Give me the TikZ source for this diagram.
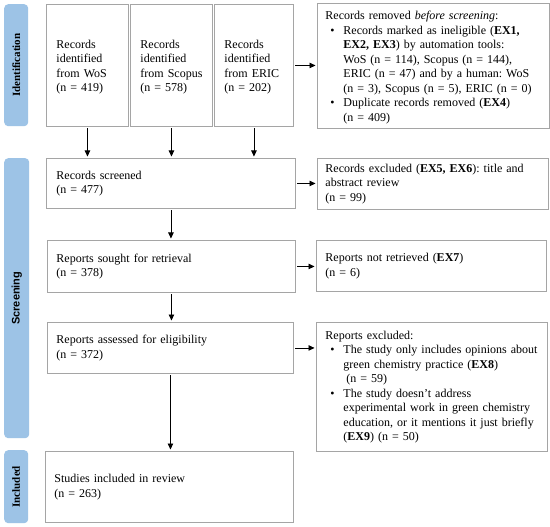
\documentclass[tikz,border=0pt]{standalone}
\usepackage{fontspec}
\setmainfont{Liberation Serif}
\newfontfamily\arialfont{Liberation Sans}
\usetikzlibrary{arrows.meta}
\definecolor{barblue}{RGB}{157,195,230}
\definecolor{boxgray}{RGB}{165,165,165}
\frenchspacing
\newcommand{\bul}{\makebox[18pt][l]{\hspace{5pt}\textbullet}}
\newcommand{\ind}{\hspace*{18pt}}
\newcommand{\jl}[2]{\makebox[#1][s]{#2}}
\begin{document}
\begin{tikzpicture}[x=1pt,y=-1pt,
  box/.style={draw=boxgray, line width=0.9pt, anchor=north west, align=left,
    inner xsep=9pt, inner ysep=0pt, font=\fontsize{12}{14.5}\selectfont},
  bar/.style={fill=barblue, rounded corners=4pt, anchor=north west, inner sep=0pt},
  barlabel/.style={rotate=90, font=\bfseries\fontsize{11}{13}\selectfont},
  arr/.style={-{Triangle[length=6pt,width=5.5pt]}, line width=0.8pt, shorten >=1.5pt, shorten <=1.5pt}]
\fill[white] (0,0) rectangle (550,527);
\useasboundingbox (0,0) rectangle (550,527);
% side bars
\node[bar, minimum width=24pt, minimum height=122pt] (idbar) at (4,4) {};
\node[barlabel] at (idbar.center) {Identification};
\node[bar, minimum width=25pt, minimum height=280pt] (scbar) at (4,158) {};
\node[barlabel, font=\arialfont\bfseries\fontsize{11}{13}\selectfont] at (scbar.center) {Screening};
\node[bar, minimum width=24pt, minimum height=73pt] (inbar) at (4,450) {};
\node[barlabel] at (inbar.center) {Included};
% boxes
\node[box, inner xsep=10pt, text width=62pt, minimum height=122pt] (wos) at (46,4)
  {\rule{0pt}{12pt}Records\\identified\\from WoS\\(n = 419)};
\node[box, inner xsep=10pt, text width=62pt, minimum height=122pt] (scopus) at (130,4)
  {\rule{0pt}{12pt}Records\\identified\\from Scopus\\(n = 578)};
\node[box, inner xsep=10pt, text width=59pt, minimum height=122pt] (eric) at (214,4)
  {\rule{0pt}{12pt}Records\\identified\\from ERIC\\(n = 202)};
\node[box, inner xsep=8pt, text width=216pt, minimum height=125pt] (removed) at (317,3)
  {\rule{0pt}{12pt}Records removed \textit{before screening}:\\
   \bul\jl{204pt}{Records marked as ineligible (\textbf{EX1,}}\\
   \ind\textbf{EX2, EX3}) by automation tools:\\
   \ind\jl{185pt}{WoS (n = 114), Scopus (n = 144),}\\
   \ind\jl{203pt}{ERIC (n = 47) and by a human: WoS}\\
   \ind (n = 3), Scopus (n = 5), ERIC (n = 0)\\
   \bul Duplicate records removed (\textbf{EX4})\\
   \ind (n = 409)};
\node[box, inner xsep=10pt, text width=229pt, minimum height=50pt] (screened) at (46,158)
  {Records screened\\(n = 477)};
\node[box, inner xsep=8pt, text width=215pt, minimum height=51pt] (excl1) at (317,158)
  {Records excluded (\textbf{EX5, EX6}): title and\\abstract review\\(n = 99)};
\node[box, text width=230pt, minimum height=52pt] (sought) at (47,240)
  {Reports sought for retrieval\\(n = 378)};
\node[box, text width=212pt, minimum height=51pt] (notret) at (316,240)
  {Reports not retrieved (\textbf{EX7})\\(n = 6)};
\node[box, text width=228pt, minimum height=51pt] (assessed) at (47,322)
  {Reports assessed for eligibility\\(n = 372)};
\node[box, text width=213pt, minimum height=129pt] (excl2) at (316,322)
  {Reports excluded:\\
   \bul The study only includes opinions about\\
   \ind green chemistry practice (\textbf{EX8})\\
   \ind\hspace*{3pt}(n = 59)\\
   \bul The study doesn’t address\\
   \ind experimental work in green chemistry\\
   \ind education, or it mentions it just briefly\\
   \ind(\textbf{EX9}) (n = 50)};
\node[box, text width=230pt, minimum height=71pt] (included) at (45,451)
  {Studies included in review\\(n = 263)};
% arrows
\draw[arr] (wos.south) -- (wos.south |- screened.north);
\draw[arr] (scopus.south) -- (scopus.south |- screened.north);
\draw[arr] (eric.south) -- (eric.south |- screened.north);
\draw[arr] (eric.east) -- (eric.east -| removed.west);
\draw[arr] (screened.east) -- (screened.east -| excl1.west);
\draw[arr] (sought.east) -- (sought.east -| notret.west);
\draw[arr] (assessed.east) -- (assessed.east -| excl2.west);
\draw[arr] (screened.south) -- (screened.south |- sought.north);
\draw[arr] (sought.south) -- (sought.south |- assessed.north);
\draw[arr] (assessed.south) -- (assessed.south |- included.north);
\end{tikzpicture}
\end{document}
